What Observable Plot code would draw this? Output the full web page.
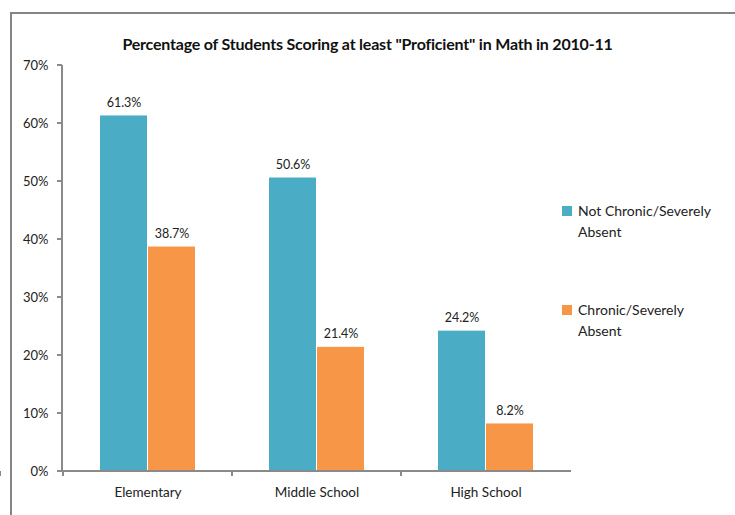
<!DOCTYPE html>
<html><head><meta charset="utf-8">
<script src="https://cdn.jsdelivr.net/npm/d3@7"></script>
<script src="https://cdn.jsdelivr.net/npm/@observablehq/plot@0.6"></script>
<style>
body{margin:0;background:#fff;}
#wrap{position:relative;width:735px;height:515px;overflow:hidden;font-family:Lato,"Open Sans",sans-serif;color:#222;}
#lineTop{position:absolute;left:10px;top:12px;width:725px;height:2px;background:#858585;z-index:5;}
#lineLeft{position:absolute;left:10px;top:12px;width:2px;height:503px;background:#858585;z-index:5;}
#title{position:absolute;left:0;width:735px;top:34px;text-align:center;font-weight:bold;font-size:16px;color:#111;letter-spacing:-0.2px;}
#chart{position:absolute;left:0;top:55px;}
.leg{position:absolute;left:562px;font-size:14px;line-height:21px;color:#222;}
.leg span.sw{position:absolute;left:0;top:6px;width:10px;height:10px;}
.leg div{padding-left:16px;}
</style></head>
<body>
<div id="wrap">
  <div id="title"></div>
  <div id="chart"></div>
  <div id="legend"></div>
  <div id="lineTop"></div>
  <div id="lineLeft"></div>
</div>
<script>
const title = 'Percentage of Students Scoring at least "Proficient" in  Math in 2010-11';
const categories = ["Elementary", "Middle School", "High School"];
const seriesNames = ["Not Chronic/Severely Absent", "Chronic/Severely Absent"];
const notChronic = [61.3, 50.6, 24.2];
const chronic = [38.7, 21.4, 8.2];
const yTicks = [0, 10, 20, 30, 40, 50, 60, 70];
const colors = ["#4BACC6", "#F79646"];

document.getElementById("title").textContent = title;

const data = [];
categories.forEach((c, i) => {
  data.push({category: c, series: seriesNames[0], value: notChronic[i]});
  data.push({category: c, series: seriesNames[1], value: chronic[i]});
});

const W = 735, H = 450;
const axisColor = "#8a8a8a";

function axesRender(index, scales, values, dimensions) {
  const x = scales.x, y = scales.y;
  const {width, height, marginLeft, marginRight} = dimensions;
  const bw = x.bandwidth != null ? x.bandwidth : (width - marginLeft - marginRight) / categories.length;
  const g = d3.create("svg:g").attr("stroke", axisColor).attr("stroke-width", 2).attr("fill", "none");
  const y0 = y(0), yTop = y(d3.max(yTicks));
  const xL = marginLeft, xR = width - marginRight;
  g.append("line").attr("x1", xL).attr("x2", xL).attr("y1", yTop).attr("y2", y0);
  g.append("line").attr("x1", xL - 1).attr("x2", xR).attr("y1", y0).attr("y2", y0);
  const bounds = categories.map(c => x(c)).concat([x(categories[categories.length - 1]) + bw]);
  bounds.forEach(b => g.append("line").attr("x1", b).attr("x2", b).attr("y1", y0).attr("y2", y0 + 5));
  yTicks.forEach(t => g.append("line").attr("x1", xL - 5).attr("x2", xL).attr("y1", y(t)).attr("y2", y(t)));
  return g.node();
}

const seriesMarks = seriesNames.map((s, k) => {
  const subset = data.filter(d => d.series === s);
  const band = 170;
  const frac = 48 / band;
  return [
    Plot.barY(subset, {
      x: "category", y: "value", fill: colors[k],
      insetLeft: k === 0 ? (0.5 - frac) * band : 0.5 * band,
      insetRight: k === 0 ? 0.5 * band : (0.5 - frac) * band
    }),
    Plot.text(subset, {
      x: "category", y: "value", text: d => d.value.toFixed(1) + "%",
      dx: (k === 0 ? -0.5 : 0.5) * frac * band, dy: -13,
      fontSize: 12.5, fill: "#222"
    })
  ];
});

const chart = Plot.plot({
  width: W, height: H,
  marginLeft: 62, marginRight: 164, marginTop: 10, marginBottom: 34,
  style: {fontFamily: "Lato, 'Open Sans', sans-serif", fontSize: "12px", color: "#222", background: "transparent"},
  x: {domain: categories, padding: 0, axis: null, label: null},
  y: {domain: [0, 70], axis: null, label: null},
  marks: [
    ...seriesMarks.flat(),
    Plot.axisY(yTicks, {tickSize: 0, tickPadding: 14, tickFormat: d => d + "%", fontSize: 13, fill: "#222", label: null}),
    Plot.axisX(categories, {tickSize: 0, tickPadding: 16, fontSize: 13.5, fill: "#222", label: null}),
    Plot.ruleY([0], {stroke: "none", render: axesRender})
  ]
});
document.getElementById("chart").appendChild(chart);

const legend = document.getElementById("legend");
const legTops = [200, 299];
const legLines = [["Not Chronic/Severely", "Absent"], ["Chronic/Severely", "Absent"]];
seriesNames.forEach((s, k) => {
  const el = document.createElement("div");
  el.className = "leg";
  el.style.top = legTops[k] + "px";
  el.innerHTML = `<span class="sw" style="background:${colors[k]}"></span><div>${legLines[k][0]}<br>${legLines[k][1]}</div>`;
  legend.appendChild(el);
});
</script>
</body></html>
